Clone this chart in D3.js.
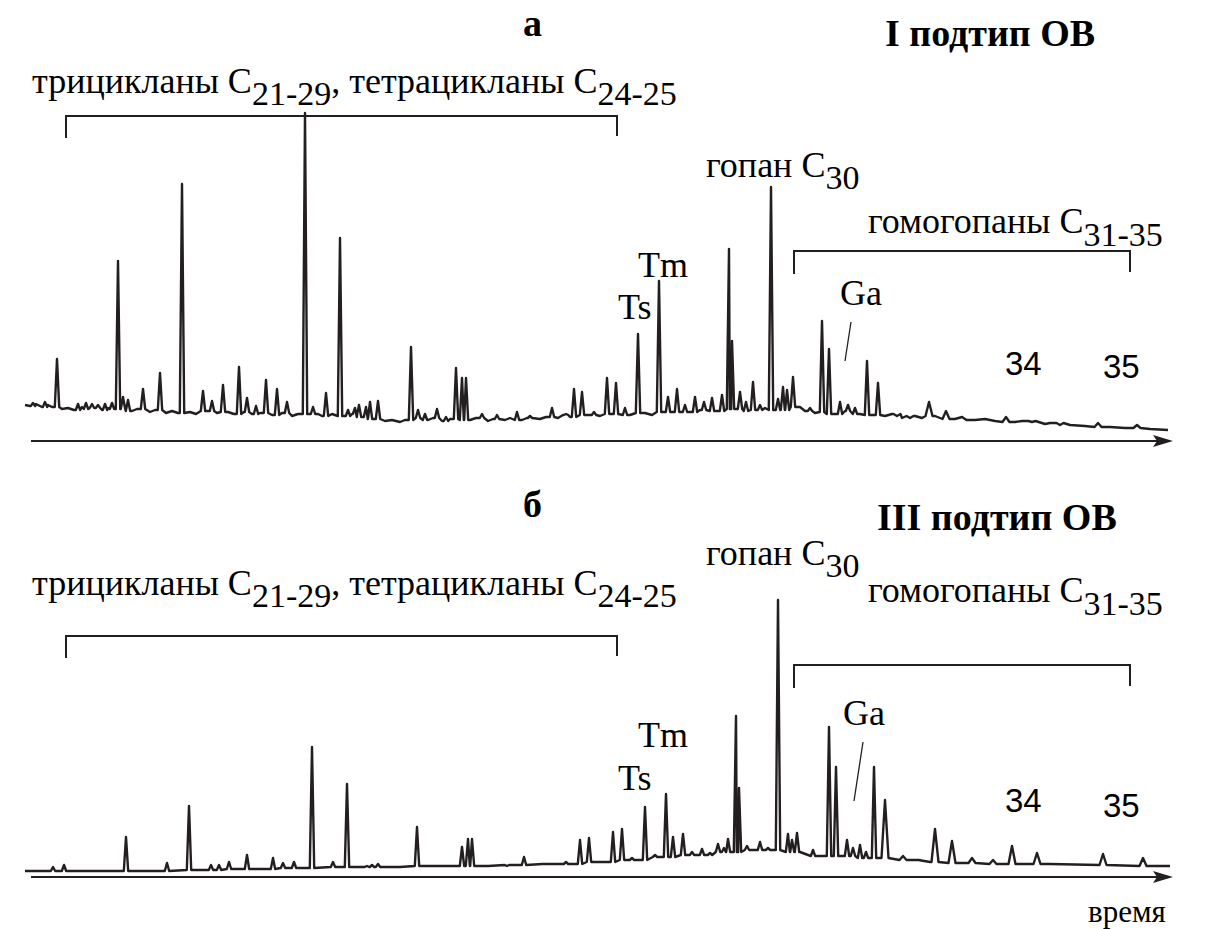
<!DOCTYPE html>
<html>
<head>
<meta charset="utf-8">
<script src="https://cdn.jsdelivr.net/npm/d3@7"></script>
<style>
  body { margin: 0; background: #fff; }
</style>
</head>
<body>
<div id="chart"></div>
<script>
// 1: DATA (retention time in arbitrary units, intensity in arbitrary units)

// panel a - baseline drift and noise [time, intensity]
const baselineA = [
  [25, 36], [30, 35], [36, 37], [42, 34], [48, 36], [52, 34], [62, 32], [68, 33], [74, 31],
  [82, 34], [88, 32], [95, 33], [102, 31], [108, 33], [114, 32], [132, 30], [137, 32],
  [150, 29], [155, 31], [166, 28], [172, 30], [178, 28], [190, 29], [196, 27], [208, 30],
  [217, 28], [228, 29], [234, 27], [244, 29], [252, 27], [260, 28], [272, 26], [282, 28],
  [292, 25], [298, 27], [318, 27], [322, 25], [332, 27], [345, 25], [352, 27], [362, 24],
  [375, 22], [385, 20], [392, 21], [400, 19], [405, 21], [420, 23], [428, 21], [433, 23],
  [442, 20], [450, 22], [470, 21], [476, 23], [488, 20], [493, 22], [505, 21], [510, 23],
  [522, 21], [527, 23], [540, 22], [546, 24], [558, 23], [563, 26], [570, 24], [588, 26],
  [600, 25], [612, 27], [630, 26], [645, 28], [652, 26], [663, 29], [690, 29], [700, 31],
  [716, 30], [735, 32], [745, 30], [757, 31], [765, 33], [775, 31], [800, 34], [805, 30],
  [815, 28], [820, 29], [835, 27], [845, 30], [860, 27], [872, 26], [885, 25], [892, 27],
  [902, 23], [915, 25], [922, 23], [935, 25], [955, 22], [962, 24], [975, 21], [985, 22],
  [995, 20], [1015, 19], [1022, 20], [1045, 17], [1050, 18], [1070, 16], [1085, 15],
  [1110, 14], [1125, 13], [1150, 12], [1168, 11]
];
// panel a - peaks [time, apex intensity]
const peaksA = [
  [33, 38], [45, 39], [57, 82], [78, 37], [86, 38], [92, 37], [98, 36], [105, 37], [112, 38],
  [118, 180], [123, 44], [128, 41], [143, 52], [160, 68], [182, 257], [203, 50], [212, 40],
  [223, 56], [239, 74], [247, 43], [256, 35], [266, 61], [277, 52], [287, 39], [305, 328],
  [313, 34], [326, 48], [340, 203], [348, 31], [355, 33], [359, 36], [366, 34], [370, 39],
  [378, 40], [411, 94], [418, 31], [425, 27], [437, 32], [446, 24], [456, 73], [462, 63],
  [466, 63], [482, 27], [497, 26], [517, 29], [530, 25], [552, 33], [566, 27], [574, 52],
  [582, 49], [594, 29], [607, 63], [616, 58], [625, 33], [638, 107], [659, 160], [668, 44],
  [677, 52], [685, 36], [695, 44], [704, 39], [712, 43], [722, 46], [729, 192], [732, 100],
  [740, 49], [746, 39], [753, 59], [760, 36], [771, 254], [778, 42], [783, 54], [787, 51],
  [793, 64], [810, 33], [822, 120], [829, 92], [840, 39], [848, 36], [855, 33], [867, 80],
  [878, 58], [897, 25], [910, 23], [929, 39], [946, 30], [970, 21], [1006, 24], [1032, 19],
  [1060, 16], [1098, 18], [1137, 16]
];

// panel b - baseline drift [time, intensity]
const baselineB = [
  [25, 6], [60, 6], [100, 6], [150, 6], [200, 7], [250, 8], [300, 9], [350, 10], [400, 10],
  [430, 11], [480, 11], [520, 12], [560, 13], [600, 15], [630, 17], [660, 20], [700, 22],
  [730, 25], [760, 27], [800, 25], [815, 21], [840, 21], [870, 19], [900, 17], [930, 15],
  [960, 14], [1000, 13], [1050, 13], [1100, 12], [1170, 11]
];
// panel b - peaks [time, apex intensity]
const peaksB = [
  [53, 10], [64, 12], [126, 40], [167, 14], [189, 71], [211, 12], [219, 12], [229, 15],
  [247, 22], [273, 19], [283, 14], [294, 15], [312, 130], [333, 15], [347, 93], [367, 11],
  [372, 12], [378, 13], [417, 50], [462, 30], [468, 38], [472, 38], [486, 11], [507, 11],
  [524, 20], [545, 13], [566, 15], [580, 37], [589, 39], [613, 45], [622, 48], [632, 19],
  [645, 70], [655, 22], [666, 83], [673, 40], [683, 43], [692, 25], [702, 28], [710, 24],
  [718, 33], [724, 29], [728, 38], [736, 161], [739, 89], [747, 31], [753, 27], [760, 35],
  [768, 29], [778, 277], [788, 43], [792, 37], [797, 44], [813, 27], [829, 150], [836, 110],
  [847, 37], [853, 29], [860, 32], [866, 25], [874, 110], [885, 77], [903, 21], [915, 17],
  [935, 48], [952, 36], [972, 19], [993, 17], [1012, 31], [1037, 24], [1103, 23], [1143, 19]
];

// labels
const panelLetters = ["а", "б"];
const panelTitles = ["I подтип ОВ", "III подтип ОВ"];
const groupTricyclic = [["трицикланы C", false], ["21-29", true], [", тетрацикланы C", false], ["24-25", true]];
const groupHopane = [["гопан C", false], ["30", true]];
const groupHomohopane = [["гомогопаны C", false], ["31-35", true]];
const peakNames = ["Ts", "Tm", "Ga"];
const homologNumbers = ["34", "35"];
const timeLabel = "время";

// 2: SVG SETUP
const W = 1208, H = 929;
const INK = "#231f20";
const SERIF = "Liberation Serif";

const svg = d3.select("#chart").append("svg")
  .attr("width", W)
  .attr("height", H);

const x = d3.scaleLinear().domain([30, 1173]).range([30, 1173]);
const axisStart = 31, axisEnd = 1173;

const panels = [
  {
    base: baselineA, peaks: peaksA, axisY: 441,
    letter: panelLetters[0], letterY: 36, title: panelTitles[0], titleX: 885, titleY: 46,
    triY: 93, triBr: 116, hopY: 177, homoY: 233, homoBr: 251,
    tsY: 319, tmY: 277, gaX: 840, gaY: 305, gaLine: [851, 322, 845, 361],
    numY: [375, 378]
  },
  {
    base: baselineB, peaks: peaksB, axisY: 877,
    letter: panelLetters[1], letterY: 517, title: panelTitles[1], titleX: 877, titleY: 530,
    triY: 595, triBr: 636, hopY: 565, homoY: 602, homoBr: 665,
    tsY: 790, tmY: 747, gaX: 843, gaY: 725, gaLine: [863, 742, 854, 801],
    numY: [812, 817]
  }
];

// 3: MARKS

// nearest baseline level (lookup, no interpolation)
function footLevel(base, t) {
  const i = d3.leastIndex(base, d => Math.abs(d[0] - t));
  return base[i][1];
}

function buildTrace(base, peaks) {
  const pts = [];
  const windows = peaks.map(([t]) => {
    const w = t > 880 ? 3.5 : 2.2;
    return [t - w, t + w];
  });
  base.forEach(([t, v]) => {
    if (!windows.some(([a, b]) => t >= a && t <= b)) pts.push({ t, v });
  });
  peaks.forEach(([t, top], i) => {
    const foot = footLevel(base, t);
    pts.push({ t: windows[i][0], v: foot }, { t, v: top }, { t: windows[i][1], v: foot });
  });
  return pts.sort((a, b) => a.t - b.t);
}

function bracket(x0, x1, yTop, yL, yR) {
  svg.append("path")
    .attr("d", `M${x0},${yL} L${x0},${yTop} L${x1},${yTop} L${x1},${yR}`)
    .attr("fill", "none")
    .attr("stroke", INK)
    .attr("stroke-width", 2);
}

panels.forEach(cfg => {
  const y = d3.scaleLinear().domain([0, 330]).range([cfg.axisY, cfg.axisY - 330]);

  // chromatogram trace
  const line = d3.line().x(d => x(d.t)).y(d => y(d.v));
  svg.append("path")
    .datum(buildTrace(cfg.base, cfg.peaks))
    .attr("fill", "none")
    .attr("stroke", INK)
    .attr("stroke-width", 2.4)
    .attr("stroke-linejoin", "round")
    .attr("d", line);

  // time axis with arrow
  svg.append("line")
    .attr("x1", axisStart).attr("x2", axisEnd - 12)
    .attr("y1", cfg.axisY).attr("y2", cfg.axisY)
    .attr("stroke", INK).attr("stroke-width", 2.2);
  svg.append("path")
    .attr("d", `M${axisEnd},${cfg.axisY} L${axisEnd - 20},${cfg.axisY - 6} L${axisEnd - 16},${cfg.axisY} L${axisEnd - 20},${cfg.axisY + 6} Z`)
    .attr("fill", INK);

  // group brackets
  bracket(x(66), x(617), cfg.triBr, cfg.triBr + 22, cfg.triBr + 20);
  bracket(x(794), x(1130), cfg.homoBr, cfg.homoBr + 23, cfg.homoBr + 21);

  // Ga leader
  svg.append("line")
    .attr("x1", cfg.gaLine[0]).attr("y1", cfg.gaLine[1])
    .attr("x2", cfg.gaLine[2]).attr("y2", cfg.gaLine[3])
    .attr("stroke", INK).attr("stroke-width", 1.3);
});

// 4: TEXT (appended straight to the svg, like the font test that rendered serif)
function addText(px, py, size, str, family, bold) {
  const t = svg.append("text")
    .attr("x", px).attr("y", py)
    .attr("font-family", family || SERIF)
    .attr("font-size", size);
  if (bold) t.attr("font-weight", "bold");
  if (str) t.text(str);
  return t;
}

function subText(parts, px, py, size, subSize, subShift) {
  const t = addText(px, py, size, null);
  let shifted = false;
  parts.forEach(([s, isSub]) => {
    const ts = t.append("tspan").text(s);
    if (isSub && !shifted) { ts.attr("dy", subShift).attr("font-size", subSize); shifted = true; }
    else if (!isSub && shifted) { ts.attr("dy", -subShift); shifted = false; }
  });
  return t;
}

panels.forEach(cfg => {
  addText(523, cfg.letterY, 38, cfg.letter, null, true);
  addText(cfg.titleX, cfg.titleY, 38, cfg.title, null, true);
  subText(groupTricyclic, 32, cfg.triY, 36, 34, 12);
  subText(groupHopane, 706, cfg.hopY, 36, 34, 12);
  subText(groupHomohopane, 868, cfg.homoY, 36, 34, 13);
  addText(618, cfg.tsY, 36, peakNames[0]);
  addText(638, cfg.tmY, 36, peakNames[1]);
  addText(cfg.gaX, cfg.gaY, 36, peakNames[2]);
  homologNumbers.forEach((n, i) => {
    addText(i === 0 ? 1005 : 1103, cfg.numY[i], 33, n, "Liberation Sans");
  });
});
addText(1088, 922, 31, timeLabel);

// force layout so the named fonts get resolved before the picture is taken
svg.selectAll("text").each(function () { this.getComputedTextLength(); });
</script>
</body>
</html>
